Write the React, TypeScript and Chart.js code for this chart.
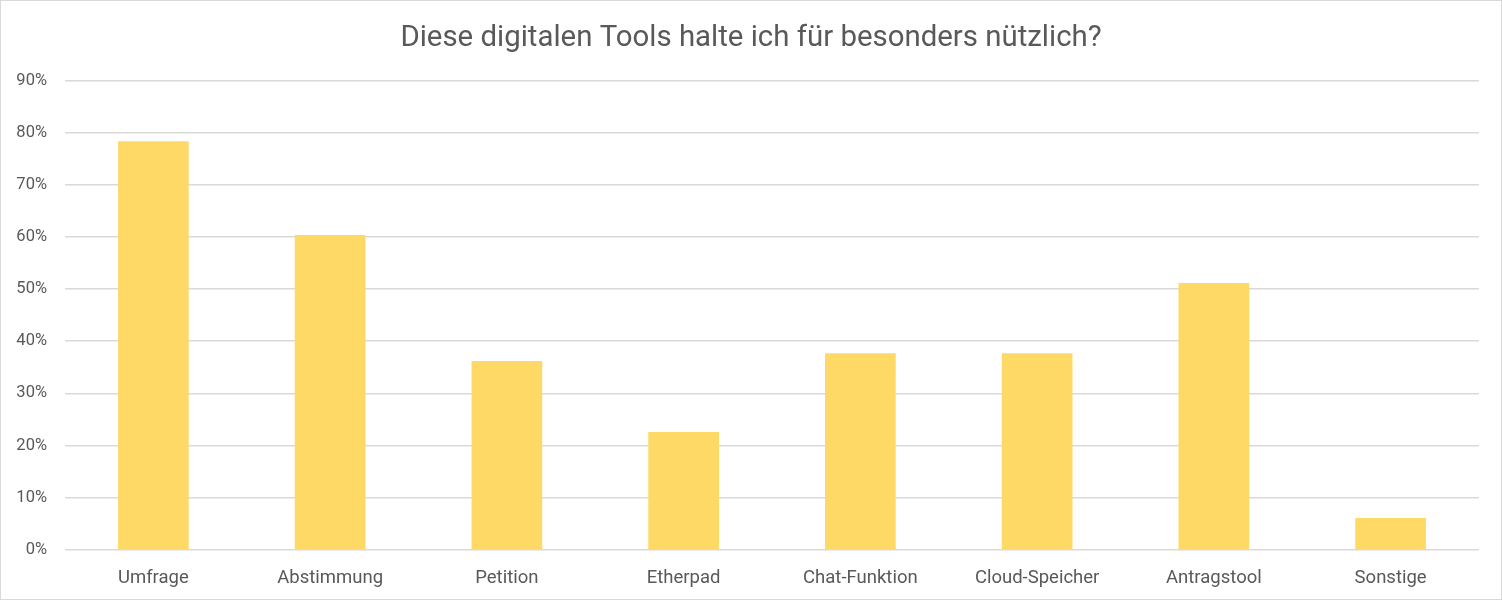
import React, { useEffect, useRef } from "react";
import { Chart, registerables } from "chart.js";

Chart.register(...registerables);

const TITLE = "Diese digitalen Tools halte ich für besonders nützlich?";
const categories = ["Umfrage", "Abstimmung", "Petition", "Etherpad", "Chat-Funktion", "Cloud-Speicher", "Antragstool", "Sonstige"];
const values = [78.4, 60.4, 36.2, 22.6, 37.7, 37.7, 51.2, 6.1];
const Y_MAX = 90;
const Y_STEP = 10;

export default function App() {
  const ref = useRef<HTMLCanvasElement | null>(null);
  useEffect(() => {
    document.body.style.margin = "0";
    const ctx = ref.current!;
    const chart = new Chart(ctx, {
      type: "bar",
      data: {
        labels: categories,
        datasets: [
          {
            data: values,
            backgroundColor: "#FFD966",
            borderWidth: 0,
            barPercentage: 1,
            categoryPercentage: 0.4,
          },
        ],
      },
      options: {
        animation: false,
        responsive: false,
        maintainAspectRatio: false,
        layout: { padding: { left: 0, right: 0, top: 0, bottom: 0 } },
        plugins: {
          legend: { display: false },
          tooltip: { enabled: false },
          title: {
            display: true,
            text: TITLE,
            color: "#595959",
            font: { family: "Roboto", size: 29.4, weight: "normal", lineHeight: 1.2 },
            padding: { top: 21, bottom: 24.4 },
          },
        },
        scales: {
          x: {
            grid: { display: false, drawTicks: false },
            border: { display: false },
            afterFit: (s: any) => {
              s.height = 50.3;
            },
            ticks: {
              color: "#595959",
              font: { family: "Roboto", size: 18.5, lineHeight: 1.2 },
              padding: 18,
              maxRotation: 0,
            },
          },
          y: {
            min: 0,
            max: Y_MAX,
            grid: { color: "#D9D9D9", lineWidth: 1.5, drawTicks: false },
            border: { display: false },
            afterFit: (s: any) => {
              s.width = 65;
            },
            ticks: {
              stepSize: Y_STEP,
              color: "#595959",
              font: { family: "Roboto", size: 16.5 },
              padding: 18,
              callback: (v: any) => v + "%",
            },
          },
          yRight: {
            position: "right",
            display: true,
            grid: { display: false, drawTicks: false },
            border: { display: false },
            ticks: { display: false },
            afterFit: (s: any) => {
              s.width = 23;
            },
          },
        },
      },
    });
    return () => chart.destroy();
  }, []);
  return (
    <div style={{ position: "fixed", left: 0, top: 0, width: 1502, height: 600, background: "#fff" }}>
      <canvas ref={ref} width={1502} height={600} style={{ display: "block", position: "absolute", left: 0, top: 0 }} />
      <div
        style={{
          position: "absolute",
          left: 0,
          top: 0,
          width: 1502,
          height: 600,
          boxSizing: "border-box",
          border: "1.5px solid #D9D9D9",
          pointerEvents: "none",
        }}
      />
    </div>
  );
}
